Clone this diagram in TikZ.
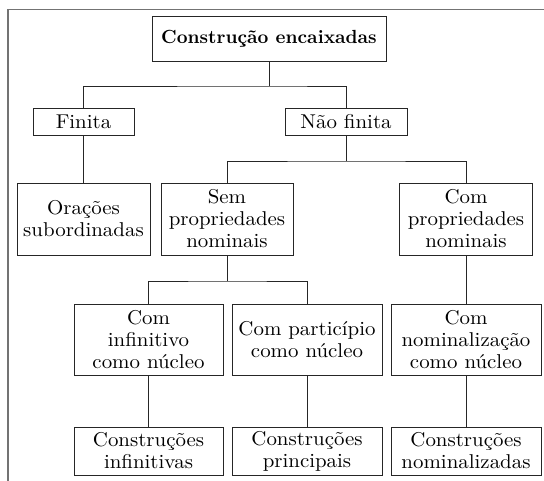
\documentclass[tikz,border=0pt]{standalone}
\usepackage{fontspec}
\setmainfont{lmroman10-regular.otf}[FakeStretch=1.045]
\newfontfamily\topfont{lmroman10-bold.otf}[FakeStretch=0.99]
\begin{document}
\begin{tikzpicture}[x=1pt,y=-1pt,
  box/.style={draw=black!85, line width=0.8pt, align=center, inner sep=0pt,
    font=\fontsize{20}{22}\selectfont},
  conn/.style={draw=black!85, line width=0.8pt}]
\useasboundingbox (0,0) rectangle (544,480);
\draw[black!55, line width=1.3pt] (8,481) -- (8,9.5) -- (545,9.5);

\node[box, minimum width=234pt, minimum height=45pt, font=\fontsize{19}{22}\topfont] (top) at (269,38.5) {Construção encaixadas};
\node[box, minimum width=101pt, minimum height=27pt] (fin) at (83.5,121.5) {Finita};
\node[box, minimum width=122pt, minimum height=27pt] (nfin) at (346,121.5) {Não finita};

\node[box, minimum width=133pt, minimum height=72pt] (orac) at (83.5,219) {Orações\\subordinadas};
\node[box, minimum width=132pt, minimum height=72pt] (sem) at (227,219) {Sem\\propriedades\\nominais};
\node[box, minimum width=133pt, minimum height=72pt] (com) at (466,219) {Com\\propriedades\\nominais};

\node[box, minimum width=149pt, minimum height=71pt] (inf) at (148.5,339.5) {Com\\infinitivo\\como núcleo};
\node[box, minimum width=150pt, minimum height=71pt] (part) at (307,339.5) {Com particípio\\como núcleo};
\node[box, minimum width=150pt, minimum height=71pt] (nom) at (466,339.5) {Com\\nominalização\\como núcleo};

\node[box, minimum width=149pt, minimum height=48pt] (cinf) at (148.5,451) {Construções\\infinitivas};
\node[box, minimum width=150pt, minimum height=48pt] (cprin) at (307,451) {Construções\\principais};
\node[box, minimum width=150pt, minimum height=48pt] (cnom) at (466,451) {Construções\\nominalizadas};

\coordinate (j1) at (269,86);
\draw[conn] (top.south) -- (j1);
\draw[conn] (fin.north) |- (j1) -| (nfin.north);
\draw[conn] (fin.south) -- (orac.north);
\coordinate (j2) at (346,161);
\draw[conn] (nfin.south) -- (j2);
\draw[conn] (sem.north) |- (j2) -| (com.north);
\coordinate (j3) at (227,281);
\draw[conn] (sem.south) -- (j3);
\draw[conn] (inf.north) |- (j3) -| (part.north);
\draw[conn] (com.south) -- (nom.north);
\draw[conn] (inf.south) -- (cinf.north);
\draw[conn] (part.south) -- (cprin.north);
\draw[conn] (nom.south) -- (cnom.north);
\end{tikzpicture}
\end{document}
